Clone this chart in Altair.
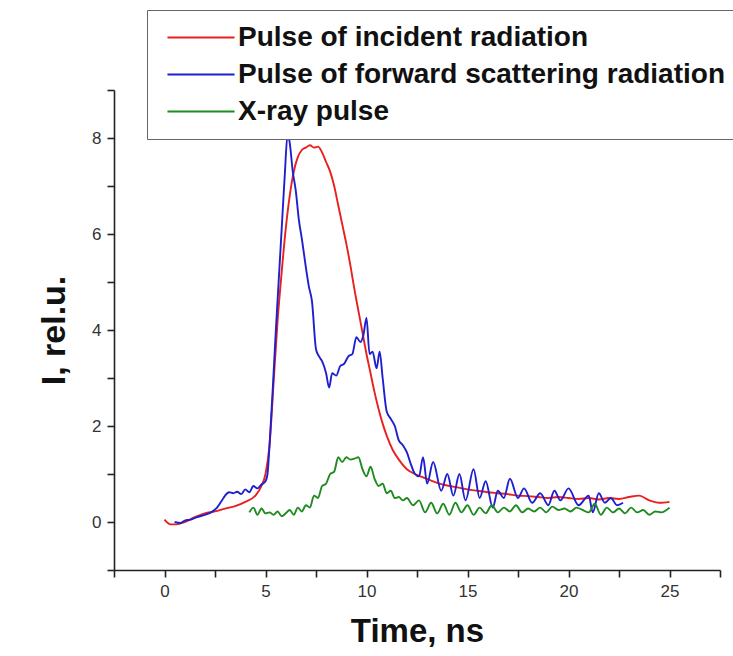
import altair as alt
import pandas as pd

series_names = ["Pulse of incident radiation", "Pulse of forward scattering radiation", "X-ray pulse"]
series_colors = ["#e8201e", "#1f1fd0", "#1f8a1f"]

incident_t = [0, 0.3, 0.6, 1.0, 1.5, 2.0, 2.5, 3.0, 3.5, 4.0, 4.5, 4.8, 5.0, 5.2, 5.4, 5.6, 5.8, 6.0,
              6.2, 6.4, 6.6, 6.8, 7.0, 7.2, 7.4, 7.6, 7.8, 8.0, 8.2, 8.4, 8.6, 8.8, 9.0, 9.2, 9.4, 9.6,
              9.8, 10.0, 10.2, 10.4, 10.6, 10.8, 11.0, 11.3, 11.6, 12.0, 12.4, 12.8, 13.2, 13.6, 14.0,
              14.5, 15.0, 15.5, 16.0, 16.5, 17.0, 17.5, 18.0, 18.5, 19.0, 19.5, 20.0, 20.5, 21.0, 21.5,
              22.0, 22.5, 23.0, 23.5, 24.0, 24.5, 25.0]
incident_v = [0.05, -0.05, -0.05, 0.0, 0.1, 0.18, 0.22, 0.28, 0.33, 0.42, 0.55, 0.75, 1.0, 1.6, 2.9,
              4.2, 5.2, 6.1, 6.8, 7.3, 7.6, 7.75, 7.8, 7.85, 7.8, 7.82, 7.7, 7.5, 7.3, 7.0, 6.6, 6.2,
              5.8, 5.35, 4.85, 4.4, 3.95, 3.5, 3.1, 2.7, 2.35, 2.05, 1.8, 1.5, 1.3, 1.1, 1.0, 0.93,
              0.86, 0.8, 0.76, 0.72, 0.68, 0.65, 0.62, 0.6, 0.58, 0.55, 0.54, 0.52, 0.5, 0.52, 0.5,
              0.48, 0.5, 0.47, 0.5, 0.48, 0.52, 0.55, 0.45, 0.4, 0.42]

forward_t = [0.5, 0.8, 1.0, 1.3, 1.6, 2.0, 2.3, 2.6, 2.8, 3.0, 3.2, 3.4, 3.6, 3.8, 4.0, 4.2, 4.4, 4.6,
             4.8, 5.0, 5.1, 5.2, 5.35, 5.5, 5.65, 5.8, 5.95, 6.1, 6.2, 6.35, 6.5, 6.65, 6.8, 7.0, 7.15,
             7.3, 7.5, 7.65, 7.8, 8.0, 8.15, 8.3, 8.5, 8.7, 8.9, 9.1, 9.3, 9.5, 9.7, 9.85, 10.0, 10.15,
             10.3, 10.5, 10.65, 10.8, 11.0, 11.2, 11.4, 11.6, 11.8, 12.0, 12.2, 12.4, 12.6, 12.8, 13.0,
             13.3, 13.7, 14.0, 14.3, 14.6, 14.9, 15.3, 15.6, 15.9, 16.25, 16.5, 16.8, 17.1, 17.5, 17.8,
             18.2, 18.6, 19.0, 19.3, 19.6, 20.0, 20.5, 21.0, 21.2, 21.5, 21.8, 22.1, 22.4, 22.7]
forward_v = [0.0, -0.02, 0.03, 0.05, 0.1, 0.15, 0.2, 0.3, 0.42, 0.55, 0.62, 0.6, 0.63, 0.58, 0.68, 0.62,
             0.75, 0.7, 0.78, 0.85, 1.0, 1.6, 2.7, 3.9, 5.0, 6.1, 7.2, 8.1, 7.9, 7.3, 6.9, 6.3, 5.9, 5.3,
             4.9, 4.6, 3.6, 3.45, 3.35, 3.1, 2.8, 3.1, 3.05, 3.25, 3.3, 3.45, 3.5, 3.85, 3.75, 3.9, 4.25,
             3.5, 3.55, 3.2, 3.55, 3.0, 2.3, 2.15, 2.0, 1.7, 1.6, 1.45, 1.2, 1.0, 0.95, 1.35, 0.8, 1.25,
             0.65, 1.0, 0.55, 1.0, 0.45, 1.1, 0.5, 0.85, 0.3, 0.65, 0.5, 0.9, 0.5, 0.7, 0.4, 0.6, 0.35,
             0.65, 0.45, 0.7, 0.35, 0.55, 0.2, 0.6, 0.4, 0.5, 0.35, 0.4]

xray_t = [4.2, 4.4, 4.6, 4.8, 5.0, 5.2, 5.4, 5.6, 5.8, 6.0, 6.2, 6.4, 6.6, 6.8, 7.0, 7.2, 7.4, 7.6, 7.8,
          8.0, 8.2, 8.4, 8.6, 8.8, 9.0, 9.2, 9.4, 9.6, 9.8, 10.0, 10.2, 10.4, 10.6, 10.8, 11.0, 11.2,
          11.4, 11.6, 11.8, 12.0, 12.3, 12.6, 12.9, 13.2, 13.5, 13.8, 14.1, 14.4, 14.7, 15.0, 15.3,
          15.6, 15.9, 16.2, 16.5, 16.8, 17.1, 17.4, 17.7, 18.0, 18.3, 18.6, 18.9, 19.2, 19.5, 19.8,
          20.1, 20.4, 20.7, 21.0, 21.3, 21.6, 21.9, 22.2, 22.5, 22.8, 23.1, 23.4, 23.7, 24.0, 24.3,
          24.6, 25.0]
xray_v = [0.2, 0.3, 0.15, 0.28, 0.18, 0.2, 0.15, 0.22, 0.12, 0.18, 0.25, 0.15, 0.3, 0.22, 0.35, 0.3,
          0.55, 0.5, 0.75, 0.8, 1.0, 1.05, 1.35, 1.25, 1.35, 1.3, 1.32, 1.35, 1.1, 0.95, 1.15, 0.9,
          0.75, 0.8, 0.6, 0.65, 0.5, 0.52, 0.45, 0.5, 0.35, 0.45, 0.2, 0.4, 0.18, 0.38, 0.15, 0.4,
          0.2, 0.35, 0.15, 0.3, 0.18, 0.35, 0.2, 0.3, 0.22, 0.35, 0.2, 0.28, 0.22, 0.3, 0.2, 0.32,
          0.25, 0.28, 0.22, 0.3, 0.25, 0.2, 0.38, 0.15, 0.3, 0.2, 0.28, 0.18, 0.3, 0.2, 0.25, 0.15,
          0.22, 0.2, 0.3]

x_ticks = [-2.5 + 2.5 * i for i in range(13)]
y_ticks = list(range(-1, 10))

frames = []
for name, ts, vs in [(series_names[0], incident_t, incident_v),
                     (series_names[1], forward_t, forward_v),
                     (series_names[2], xray_t, xray_v)]:
    frames.append(pd.DataFrame({"t": ts, "v": vs, "series": name}))
df = pd.concat(frames, ignore_index=True)

FONT = "Liberation Sans"

chart = alt.Chart(df).mark_line(strokeWidth=1.9, interpolate="monotone").encode(
    x=alt.X("t:Q",
            scale=alt.Scale(domain=[-2.5, 27.5], nice=False, zero=False),
            axis=alt.Axis(title="Time, ns", values=x_ticks,
                          labelExpr="datum.value % 5 == 0 ? datum.label : ''",
                          grid=False, tickSize=7, labelPadding=6, titlePadding=16,
                          labelFontSize=17, titleFontSize=33, labelFlush=False)),
    y=alt.Y("v:Q",
            scale=alt.Scale(domain=[-1, 9], nice=False, zero=False),
            axis=alt.Axis(title="I, rel.u.", values=y_ticks,
                          labelExpr="(datum.value % 2 == 0 && datum.value >= 0 && datum.value <= 8) ? datum.label : ''",
                          grid=False, tickSize=7, labelPadding=6, titlePadding=20,
                          labelFontSize=17, titleFontSize=34, labelFlush=False)),
    color=alt.Color("series:N",
                    scale=alt.Scale(domain=series_names, range=series_colors),
                    sort=series_names,
                    legend=alt.Legend(title=None, orient="none", legendX=33, legendY=-80,
                                      symbolType="stroke", symbolSize=4500, symbolStrokeWidth=2,
                                      symbolOffset=10,
                                      clipHeight=37, rowPadding=0,
                                      labelFontSize=28, labelFontWeight="bold", labelFont=FONT,
                                      labelColor="#111", labelLimit=0, labelOffset=2,
                                      padding=9, strokeColor="#666", fillColor="white")),
    detail="series:N",
).properties(
    width=606, height=480,
    autosize=alt.AutoSizeParams(type="none"),
    padding={"left": 114, "top": 90, "right": 13, "bottom": 86},
).configure_view(
    stroke=None
).configure_axis(
    domainColor="#222", domainWidth=1.6, tickColor="#222", tickWidth=1.6,
    labelFont=FONT, titleFont=FONT, labelColor="#333", titleColor="#111",
    titleFontWeight="bold"
)

chart.save("out.html", embed_options={"renderer": "svg", "actions": False})
